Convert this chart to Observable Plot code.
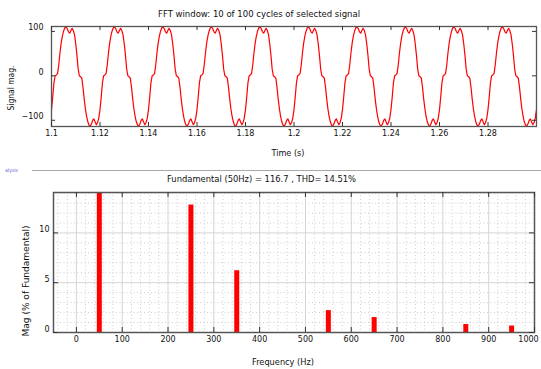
<!DOCTYPE html>
<html>
<head>
<meta charset="utf-8">
<script src="https://cdn.jsdelivr.net/npm/d3@7"></script>
<script src="https://cdn.jsdelivr.net/npm/@observablehq/plot@0.6"></script>
<style>
  html, body { margin: 0; padding: 0; background: #fff; }
  #chart { position: relative; width: 541px; height: 369px; overflow: hidden; background: #fff; }
  .abs { position: absolute; left: 0; }
</style>
</head>
<body>
<div id="chart"></div>
<script>
// ---------- data ----------
const titleTop = "FFT window: 10 of 100 cycles of selected signal";
const titleBottom = "Fundamental (50Hz) = 116.7 , THD= 14.51%";
const sampleStart = 1.1;     // s
const sampleStep = 0.0005;   // s
// signal samples (10 cycles, 0.5 ms apart)
const signalValues = [
  -76,-48,-16,0,2,5,25,52,74,90,101,108,110,106,99,96,102,107,102,92,72,46,15,0,-2,-5,-26,-53,-75,-92,-104,-111,-113,-108,-100,-97,-104,-110,-105,-95,
  -76,-48,-16,0,2,5,25,52,74,90,101,108,110,106,99,96,102,107,102,92,72,46,15,0,-2,-5,-26,-53,-75,-92,-104,-111,-113,-108,-100,-97,-104,-110,-105,-95,
  -76,-48,-16,0,2,5,25,52,74,90,101,108,110,106,99,96,102,107,102,92,72,46,15,0,-2,-5,-26,-53,-75,-92,-104,-111,-113,-108,-100,-97,-104,-110,-105,-95,
  -76,-48,-16,0,2,5,25,52,74,90,101,108,110,106,99,96,102,107,102,92,72,46,15,0,-2,-5,-26,-53,-75,-92,-104,-111,-113,-108,-100,-97,-104,-110,-105,-95,
  -76,-48,-16,0,2,5,25,52,74,90,101,108,110,106,99,96,102,107,102,92,72,46,15,0,-2,-5,-26,-53,-75,-92,-104,-111,-113,-108,-100,-97,-104,-110,-105,-95,
  -76,-48,-16,0,2,5,25,52,74,90,101,108,110,106,99,96,102,107,102,92,72,46,15,0,-2,-5,-26,-53,-75,-92,-104,-111,-113,-108,-100,-97,-104,-110,-105,-95,
  -76,-48,-16,0,2,5,25,52,74,90,101,108,110,106,99,96,102,107,102,92,72,46,15,0,-2,-5,-26,-53,-75,-92,-104,-111,-113,-108,-100,-97,-104,-110,-105,-95,
  -76,-48,-16,0,2,5,25,52,74,90,101,108,110,106,99,96,102,107,102,92,72,46,15,0,-2,-5,-26,-53,-75,-92,-104,-111,-113,-108,-100,-97,-104,-110,-105,-95,
  -76,-48,-16,0,2,5,25,52,74,90,101,108,110,106,99,96,102,107,102,92,72,46,15,0,-2,-5,-26,-53,-75,-92,-104,-111,-113,-108,-100,-97,-104,-110,-105,-95,
  -76,-48,-16,0,2,5,25,52,74,90,101,108,110,106,99,96,102,107,102,92,72,46,15,0,-2,-5,-26,-53,-75,-92,-104,-111,-113,-108,-100,-97,-104,-110,-105,-95,
  -76
];
const timeTicks = [1.1, 1.12, 1.14, 1.16, 1.18, 1.2, 1.22, 1.24, 1.26, 1.28];
const signalTicks = [-100, 0, 100];

const harmonicFreq = [50, 250, 350, 550, 650, 850, 950];      // Hz
const harmonicMag  = [100, 12.8, 6.2, 2.2, 1.5, 0.8, 0.65];   // % of fundamental
const freqTicks = [0, 100, 200, 300, 400, 500, 600, 700, 800, 900, 1000];
const magTicks = [0, 5, 10];
const magMinorTicks = [1, 2, 3, 4, 6, 7, 8, 9, 11, 12, 13, 14];

// ---------- layout ----------
const W = 541;
const FONT = "DejaVu Sans";
const chartDiv = document.getElementById("chart");

// ---- top plot: signal ----
const tp = {h: 160, mt: 26, mb: 34, ml: 51, mr: 5};
const tInnerH = tp.h - tp.mt - tp.mb, tInnerW = W - tp.ml - tp.mr;
const signalRows = signalValues.map((v, i) => ({time: sampleStart + i * sampleStep, value: v}));

const topPlot = Plot.plot({
  width: W, height: tp.h,
  marginTop: tp.mt, marginBottom: tp.mb, marginLeft: tp.ml, marginRight: tp.mr,
  style: {fontFamily: FONT, fontSize: "8px", color: "#111", background: "transparent", overflow: "visible"},
  x: {domain: [1.1, 1.3]},
  y: {domain: [-114, 111]},
  marks: [
    Plot.lineY(signalRows, {x: "time", y: "value", stroke: "#ff0000", strokeWidth: 1.2}),
    Plot.frame({stroke: "#555", strokeWidth: 1.3}),
    Plot.tickX(timeTicks, {x: d => d, insetBottom: tInnerH - 4, stroke: "#333"}),
    Plot.tickX(timeTicks, {x: d => d, insetTop: tInnerH - 4, stroke: "#333"}),
    Plot.tickY(signalTicks, {y: d => d, insetRight: tInnerW - 4, stroke: "#333"}),
    Plot.tickY(signalTicks, {y: d => d, insetLeft: tInnerW - 4, stroke: "#333"}),
    Plot.axisX({ticks: timeTicks, tickSize: 0, tickPadding: 4, label: null,
                tickFormat: d => String(+d.toFixed(2))}),
    Plot.axisY({ticks: signalTicks, tickSize: 0, tickPadding: 8, dy: -3.5, label: null})
  ]
});
topPlot.style.top = "0px";
topPlot.classList.add("abs");
chartDiv.appendChild(topPlot);

// ---- bottom plot: harmonics ----
const bp = {top: 180, h: 189, mt: 12, mb: 37, ml: 53, mr: 7};
const bInnerH = bp.h - bp.mt - bp.mb, bInnerW = W - bp.ml - bp.mr;
const harmonics = harmonicFreq.map((f, i) => ({freq: f, mag: harmonicMag[i]}));
const freqMinor = d3.range(-40, 1000, 20).filter(d => d % 100 !== 0);
const lastFreq = freqTicks[freqTicks.length - 1];

const bottomPlot = Plot.plot({
  width: W, height: bp.h,
  marginTop: bp.mt, marginBottom: bp.mb, marginLeft: bp.ml, marginRight: bp.mr,
  style: {fontFamily: FONT, fontSize: "8px", color: "#111", background: "transparent", overflow: "visible"},
  x: {domain: [-50, 1000]},
  y: {domain: [0, 14.06], clamp: true},
  marks: [
    Plot.ruleX(freqMinor, {x: d => d, stroke: "#cccccc", strokeDasharray: "1,2.5"}),
    Plot.ruleY(magMinorTicks, {y: d => d, stroke: "#cccccc", strokeDasharray: "1,2.5"}),
    Plot.ruleX(freqTicks, {x: d => d, stroke: "#d4d4d4"}),
    Plot.ruleY(magTicks, {y: d => d, stroke: "#d4d4d4"}),
    Plot.ruleX(harmonics, {x: "freq", y1: 0, y2: "mag", stroke: "#ff0000", strokeWidth: 5}),
    Plot.frame({stroke: "#555", strokeWidth: 1.5}),
    Plot.tickX(freqTicks, {x: d => d, insetBottom: bInnerH - 5, stroke: "#333"}),
    Plot.tickX(freqTicks, {x: d => d, insetTop: bInnerH - 5, stroke: "#333"}),
    Plot.tickY(magTicks, {y: d => d, insetRight: bInnerW - 5, stroke: "#333"}),
    Plot.tickY(magTicks, {y: d => d, insetLeft: bInnerW - 5, stroke: "#333"}),
    Plot.axisX({ticks: freqTicks.filter(d => d !== lastFreq), tickSize: 0, tickPadding: 4, label: null,
                tickFormat: d => String(d)}),
    Plot.axisX({ticks: [lastFreq], tickSize: 0, tickPadding: 4, label: null, dx: -6,
                tickFormat: d => String(d)}),
    Plot.axisY({ticks: magTicks, tickSize: 0, tickPadding: 4, dy: -3.5, label: null})
  ]
});
bottomPlot.style.top = bp.top + "px";
bottomPlot.classList.add("abs");
chartDiv.appendChild(bottomPlot);

// ---- overlay texts ----
const ov = d3.select(chartDiv).append("svg")
  .attr("class", "abs").style("top", "0px")
  .attr("width", W).attr("height", 369)
  .style("font-family", FONT).style("pointer-events", "none");

function txt(s, x, y, opts = {}) {
  const el = ov.append("text")
    .attr("x", x).attr("y", y)
    .attr("text-anchor", opts.anchor || "middle")
    .attr("dominant-baseline", "central")
    .attr("font-size", opts.size || 9.5)
    .attr("fill", opts.fill || "#111")
    .text(s);
  if (opts.weight) el.attr("font-weight", opts.weight);
  if (opts.len) el.attr("textLength", opts.len).attr("lengthAdjust", "spacingAndGlyphs");
  if (opts.rotate) el.attr("transform", `rotate(-90,${x},${y})`);
  return el;
}

txt(titleTop, 259, 13.5, {len: 202});
txt("Signal mag.", 10, 88, {len: 45, rotate: true});
txt("Time (s)", 288, 152, {len: 33});
ov.append("line").attr("x1", 32).attr("x2", 541).attr("y1", 170.5).attr("y2", 170.5)
  .attr("stroke", "#a8a8a8").attr("stroke-width", 1);
txt("alysis", 5, 169.5, {anchor: "start", size: 5, fill: "#5a5ad8", len: 13});
txt(titleBottom, 261.5, 178.5, {len: 189});
txt("Mag (% of Fundamental)", 25, 281, {len: 111, rotate: true});
txt("Frequency (Hz)", 283, 361.5, {len: 62});
</script>
</body>
</html>
